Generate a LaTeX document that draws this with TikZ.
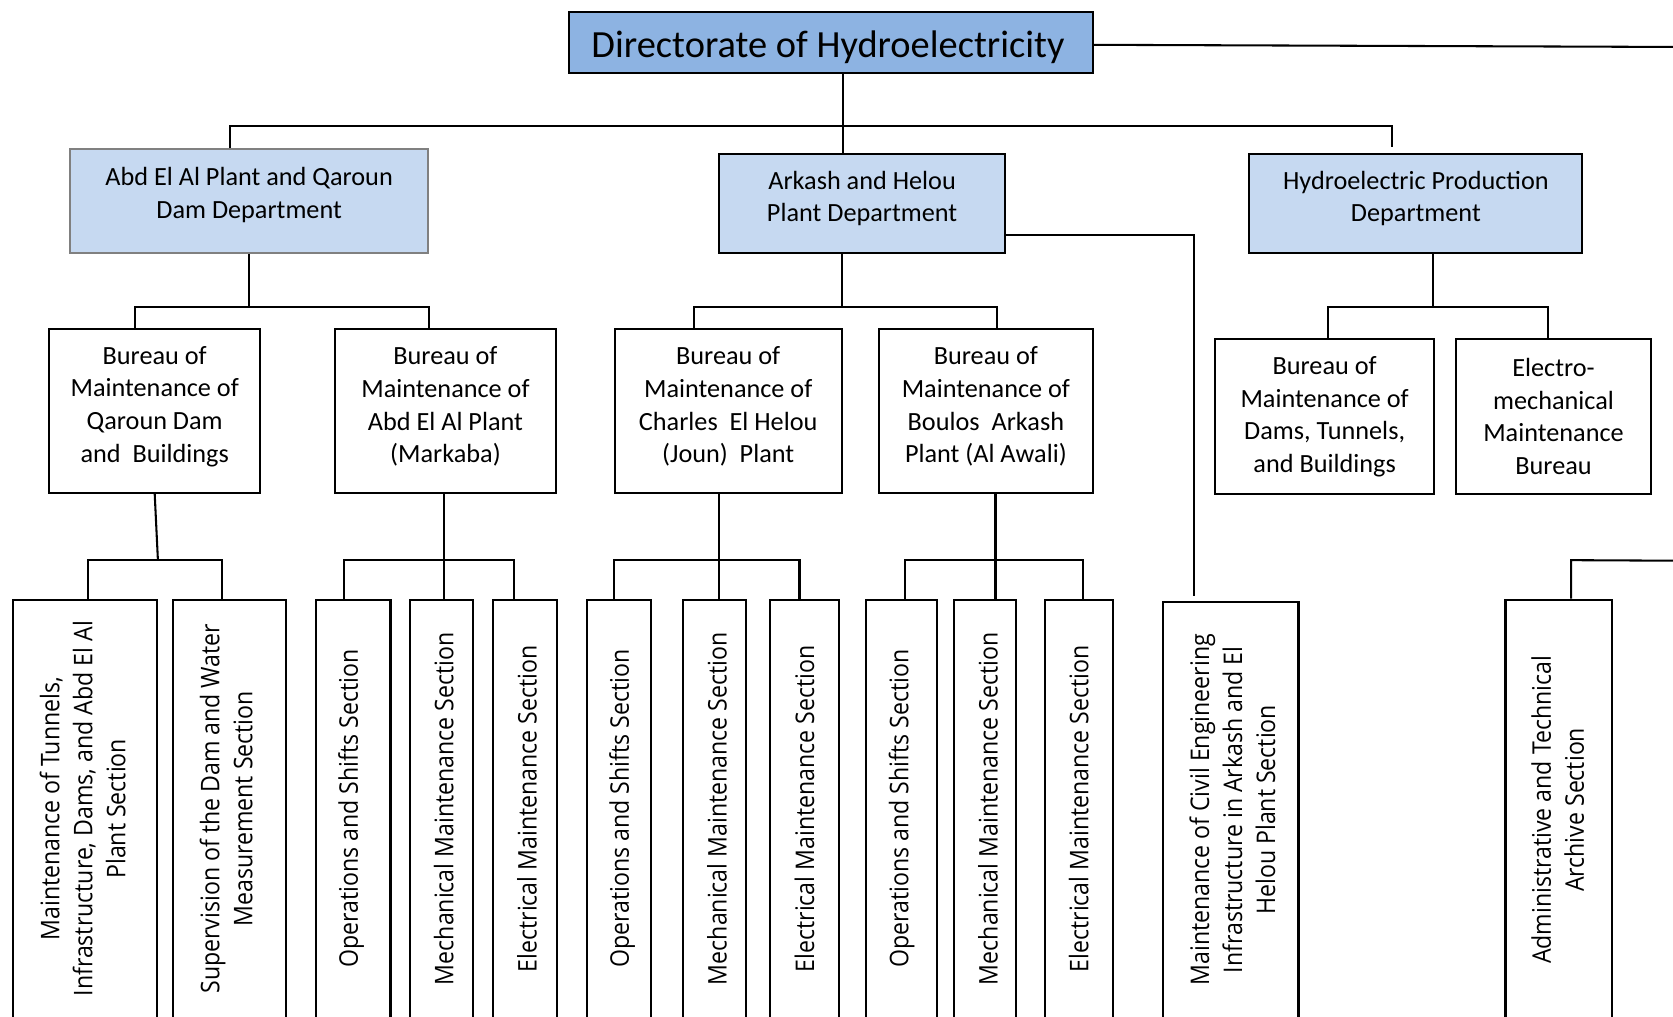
\documentclass[tikz,border=0pt]{standalone}
\usepackage{fontspec}
\setmainfont{Carlito}
\newfontfamily\vfont[FakeStretch=0.9]{Open Sans}
\usetikzlibrary{fit,calc}
\definecolor{topblue}{HTML}{8DB3E2}
\definecolor{deptblue}{HTML}{C6D9F1}
\begin{document}
\begin{tikzpicture}[x=0.02cm,y=-0.02cm,
  wire/.style={line width=1.1pt},
  boxs/.style={draw, line width=1.1pt, inner sep=0pt},
  htxt/.style={inner sep=0pt, align=center, font=\fontsize{14}{17.4}\selectfont},
  vtxt/.style={inner sep=0pt, align=center, rotate=90, font=\vfont\fontsize{13.7}{17.6}\selectfont}]
\useasboundingbox (0,0) rectangle (1568,953);
\fill[white] (0,0) rectangle (1568,953);

% ---------- level 0 ----------
\node[boxs, fill=topblue, fit={(533,11)(1024,68)}] (top) {};
\node[htxt, anchor=base, font=\fontsize{20.5}{24}\selectfont] (topt) at (776,54) {Directorate of Hydroelectricity};

% ---------- level 1 ----------
\node[boxs, fill=deptblue, draw=black!50, fit={(66,140)(401,237)}] (abd) {};
\node[htxt] (abdt) at (233.5,183) {Abd El Al Plant and Qaroun\\Dam Department};
\node[boxs, fill=deptblue, fit={(674,144)(942,237)}] (ark) {};
\node[htxt] (arkt) at (808,186) {Arkash and Helou\\Plant Department};
\node[boxs, fill=deptblue, fit={(1171,144)(1483,237)}] (hyd) {};
\node[htxt] (hydt) at (1327,186) {Hydroelectric Production\\Department};

% ---------- level 2 ----------
\node[boxs, fit={(46,308)(244,462)}] (b1) {};
\node[htxt] (b1t) at (145,381) {Bureau of\\Maintenance of\\Qaroun Dam\\and\ \ Buildings};
\node[boxs, fit={(314,308)(521,462)}] (b2) {};
\node[htxt] (b2t) at (417.5,381) {Bureau of\\Maintenance of\\Abd El Al Plant\\(Markaba)};
\node[boxs, fit={(576,308)(789,462)}] (b3) {};
\node[htxt] (b3t) at (682.5,381) {Bureau of\\Maintenance of\\Charles\ \ El Helou\\(Joun)\ \ Plant};
\node[boxs, fit={(824,308)(1024,462)}] (b4) {};
\node[htxt] (b4t) at (924,381) {Bureau of\\Maintenance of\\Boulos\ \ Arkash\\Plant (Al Awali)};
\node[boxs, fit={(1139,318)(1344,463)}] (b5) {};
\node[htxt] (b5t) at (1241.5,390.5) {Bureau of\\Maintenance of\\Dams, Tunnels,\\and Buildings};
\node[boxs, fit={(1365,318)(1547,463)}] (b6) {};
\node[htxt] (b6t) at (1456,390.5) {Electro-\\mechanical\\Maintenance\\Bureau};

% ---------- level 3 ----------
\node[boxs, fit={(12,562)(147,957)}] (s1) {};
\node[vtxt] (s1t) at (77.5,758) {Maintenance of Tunnels,\\Infrastructure, Dams, and Abd El Al\\Plant Section};
\node[boxs, fit={(162,562)(268,957)}] (s2) {};
\node[vtxt] (s2t) at (212,758) {Supervision of the Dam and Water\\Measurement Section};
\node[boxs, fit={(296,562)(366,957)}] (s3) {};
\node[vtxt] (s3t) at (329,758) {Operations and Shifts Section};
\node[boxs, fit={(384,562)(443,957)}] (s4) {};
\node[vtxt] (s4t) at (416,758) {Mechanical Maintenance Section};
\node[boxs, fit={(462,562)(522,957)}] (s5) {};
\node[vtxt] (s5t) at (494,758) {Electrical Maintenance Section};
\node[boxs, fit={(550,562)(610,957)}] (s6) {};
\node[vtxt] (s6t) at (583,758) {Operations and Shifts Section};
\node[boxs, fit={(640,562)(699,957)}] (s7) {};
\node[vtxt] (s7t) at (672,758) {Mechanical Maintenance Section};
\node[boxs, fit={(722,562)(786,957)}] (s8) {};
\node[vtxt] (s8t) at (754,758) {Electrical Maintenance Section};
\node[boxs, fit={(812,562)(878,957)}] (s9) {};
\node[vtxt] (s9t) at (845,758) {Operations and Shifts Section};
\node[boxs, fit={(894,562)(952,957)}] (s10) {};
\node[vtxt] (s10t) at (926,758) {Mechanical Maintenance Section};
\node[boxs, fit={(979,562)(1043,957)}] (s11) {};
\node[vtxt] (s11t) at (1011,758) {Electrical Maintenance Section};
\node[boxs, fit={(1090,564)(1217,957)}] (s12) {};
\node[vtxt] (s12t) at (1155,759) {Maintenance of Civil Engineering\\Infrastructure in Arkash and El\\Helou Plant Section};
\node[boxs, fit={(1411,562)(1511,957)}] (s13) {};
\node[vtxt] (s13t) at (1460,759) {Administrative and Technical\\Archive Section};

% ---------- connectors ----------
\coordinate (eR) at (1568,44);
\draw[wire] ($(top.east)+(0,2.5)$) -- (eR);

\coordinate (j0) at (790,118);
\coordinate (jL) at (216,118);
\coordinate (jR) at (1305,118);
\coordinate (jRe) at (1305,138);
\draw[wire] (top.south -| j0) -- (ark.north -| j0);
\draw[wire] (abd.north -| jL) -- (jL) -- (jR) -- (jRe);

% Abd El Al department
\coordinate (j1a) at (126.5,288);
\coordinate (j1b) at (402,288);
\draw[wire] (abd.south) -- (abd.south |- j1a);
\draw[wire] (b1.north -| j1a) -- (j1a) -- (j1b) -- (b2.north -| j1b);

% Arkash department
\coordinate (j2) at (789,288);
\coordinate (j2a) at (650,288);
\coordinate (j2b) at (934,288);
\draw[wire] (ark.south -| j2) -- (j2);
\draw[wire] (b3.north -| j2a) -- (j2a) -- (j2b) -- (b4.north -| j2b);
\coordinate (k1) at (1119,220);
\coordinate (k2) at (1119,558.5);
\draw[wire] (ark.east |- k1) -- (k1) -- (k2);

% Hydroelectric production department
\coordinate (j3) at (1343,288);
\coordinate (j3a) at (1245,288);
\coordinate (j3b) at (1451,288);
\draw[wire] (hyd.south -| j3) -- (j3);
\draw[wire] (b5.north -| j3a) -- (j3a) -- (j3b) -- (b6.north -| j3b);

% bureau 1
\coordinate (m1) at (148,525);
\coordinate (m1a) at (82.5,525);
\coordinate (m1b) at (208,525);
\draw[wire] (b1.south) -- (m1);
\draw[wire] (s1.north -| m1a) -- (m1a) -- (m1b) -- (s2.north -| m1b);

% bureau 2
\coordinate (m2) at (416,525);
\coordinate (m2a) at (322.5,525);
\coordinate (m2b) at (482,525);
\draw[wire] (b2.south -| m2) -- (s4.north -| m2);
\draw[wire] (s3.north -| m2a) -- (m2a) -- (m2b) -- (s5.north -| m2b);

% bureau 3
\coordinate (m3) at (673.7,525);
\coordinate (m3a) at (575.7,525);
\coordinate (m3b) at (749.3,525);
\draw[wire] (b3.south -| m3) -- (s7.north -| m3);
\draw[wire] (s6.north -| m3a) -- (m3a) -- (m3b) -- (s8.north -| m3b);

% bureau 4
\coordinate (m4) at (933,525);
\coordinate (m4a) at (848.2,525);
\coordinate (m4b) at (1015.3,525);
\draw[wire] (b4.south -| m4) -- (s10.north -| m4);
\draw[wire] (s9.north -| m4a) -- (m4a) -- (m4b) -- (s11.north -| m4b);

% archive section
\coordinate (n1) at (1472.5,525);
\coordinate (n2) at (1568,525.5);
\draw[wire] (n2) -- (n1) -- (s13.north -| n1);
\end{tikzpicture}
\end{document}
